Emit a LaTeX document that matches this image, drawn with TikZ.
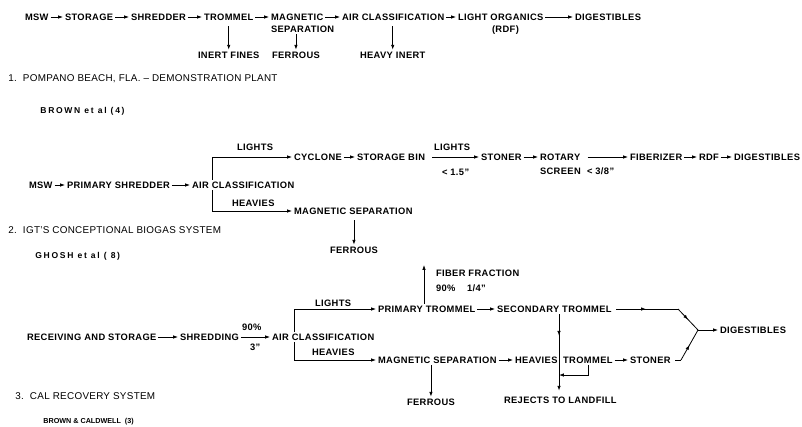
\documentclass[tikz,border=0pt]{standalone}
\usepackage{fontspec}
\setmainfont{Liberation Sans}
\usetikzlibrary{arrows.meta,decorations.markings}
\newcommand\flowfont{\fontsize{7}{8}\selectfont\bfseries\addfontfeature{LetterSpace=4}}
\newcommand\hdrfont{\fontsize{7.4}{8}\selectfont\addfontfeature{LetterSpace=3}}
\newcommand\authfont{\fontsize{6.4}{7}\selectfont\bfseries\addfontfeature{LetterSpace=20}}
\newcommand\authfontb{\fontsize{5.4}{6}\selectfont\bfseries}
\tikzset{
  lbl/.style={font=\flowfont, inner sep=0pt, outer sep=1.5pt, text height=5pt, text depth=0pt, anchor=west},
  hdr/.style={font=\hdrfont, inner sep=0pt, text height=5.3pt, text depth=0pt, anchor=west},
  auth/.style={font=\authfont, inner sep=0pt, text height=4.6pt, text depth=0pt, anchor=west},
  authb/.style={font=\authfontb, inner sep=0pt, text height=3.9pt, text depth=0pt, anchor=west},
  arr/.style={-{Latex[length=3.6pt,width=2.6pt]}},
  midarrow/.style={postaction={decorate}, decoration={markings, mark=at position #1 with {\arrow{Latex[length=3.6pt,width=2.6pt]}}}},
  midarrow/.default=0.5
}
\begin{document}
\begin{tikzpicture}[x=0.75pt, y=-0.75pt, line width=0.6pt]
\fill[white] (0,0) rectangle (802,426);
\useasboundingbox (0,0) rectangle (802,426);

% ---------- Row 1 ----------
\node[lbl] (msw1) at (23,17) {MSW};
\node[lbl] (sto1) at (63,17) {STORAGE};
\node[lbl] (shr1) at (129,17) {SHREDDER};
\node[lbl] (tro1) at (202,17) {TROMMEL};
\node[lbl] (mag1) at (269,17) {MAGNETIC};
\node[lbl] (sep1) at (269,29) {SEPARATION};
\node[lbl] (air1) at (340,17) {AIR CLASSIFICATION};
\node[lbl] (lig1) at (456,17) {LIGHT ORGANICS};
\node[lbl] (rdf1) at (490,29) {(RDF)};
\node[lbl] (dig1) at (573,17) {DIGESTIBLES};
\node[lbl] (ine1) at (196,55) {INERT FINES};
\node[lbl] (fer1) at (270,55) {FERROUS};
\node[lbl] (hvy1) at (358,55) {HEAVY INERT};

\draw[arr] (msw1) -- (sto1);
\draw[arr] (sto1) -- (shr1);
\draw[arr] (shr1) -- (tro1);
\draw[arr] (tro1) -- (mag1);
\draw[arr] (mag1) -- (air1);
\draw[arr] (air1) -- (lig1);
\draw[arr] (lig1) -- (dig1);
\draw[arr] ([yshift=-3pt]tro1.south) -- (tro1.south |- ine1.north);
\draw[arr] (sep1.south -| fer1.north) -- (fer1.north);
\draw[arr] ([yshift=-3pt]air1.south -| hvy1.north) -- (hvy1.north);

\node[hdr] (h1) at (8,78) {1.\ \ POMPANO BEACH, FLA. -- DEMONSTRATION PLANT};
\node[auth] (a1) at (40,110) {BROWN et al (4)};

% ---------- Row 2 ----------
\node[lbl] (msw2) at (27,185) {MSW};
\node[lbl] (psh2) at (65,185) {PRIMARY SHREDDER};
\node[lbl] (air2) at (190,185) {AIR CLASSIFICATION};
\coordinate (b2) at (212,185);
\node[lbl] (cyc2) at (292,157) {CYCLONE};
\node[lbl] (sbn2) at (355,157) {STORAGE BIN};
\node[lbl] (stn2) at (479,157) {STONER};
\node[lbl] (rot2) at (538,157) {ROTARY};
\node[lbl] (scr2) at (538,171) {SCREEN};
\node[lbl] (fib2) at (628,157) {FIBERIZER};
\node[lbl] (rdf2) at (697,157) {RDF};
\node[lbl] (dig2) at (732,157) {DIGESTIBLES};
\node[lbl] (l2a) at (235,147) {LIGHTS};
\node[lbl] (l2b) at (432,147) {LIGHTS};
\node[lbl] (s2a) at (440,172) {< 1.5"};
\node[lbl] (s2b) at (585,171) {< 3/8"};
\node[lbl] (h2a) at (230,203) {HEAVIES};
\node[lbl] (mag2) at (292,211) {MAGNETIC SEPARATION};
\node[lbl] (fer2) at (328,250) {FERROUS};

\draw[arr] (msw2) -- (psh2);
\draw[arr] (psh2) -- (air2);
\draw[arr] (b2 |- air2.north) |- (cyc2.west);
\draw[arr] (b2 |- air2.south) |- (mag2.west);
\draw[arr] (cyc2) -- (sbn2);
\draw[arr, shorten <=4pt] (sbn2) -- (stn2);
\draw[arr] (stn2) -- (rot2);
\draw[arr, shorten <=4pt] (rot2) -- (fib2);
\draw[arr] (fib2) -- (rdf2);
\draw[arr] (rdf2) -- (dig2);
\draw[arr] ([yshift=-3pt]mag2.south -| fer2.north) -- (fer2.north);

\node[hdr] (h2) at (8,230) {2.\ \ IGT'S CONCEPTIONAL\ BIOGAS SYSTEM};
\node[auth] (a2) at (35,255) {GHOSH et al (\ 8)};

% ---------- Row 3 ----------
\node[lbl] (rec3) at (25,337) {RECEIVING AND STORAGE};
\node[lbl] (shd3) at (178,337) {SHREDDING};
\node[lbl] (air3) at (270,337) {AIR CLASSIFICATION};
\node[lbl] (p90) at (240,327) {90\%};
\node[lbl] (p3) at (248,347) {3"};
\coordinate (b3) at (294,337);
\node[lbl] (lt3) at (313,303) {LIGHTS};
\node[lbl] (ptr3) at (376,309) {PRIMARY TROMMEL};
\node[lbl] (hv3) at (310,352) {HEAVIES};
\node[lbl] (mag3) at (376,360) {MAGNETIC SEPARATION};
\node[lbl] (fib3) at (434,273) {FIBER FRACTION};
\node[lbl] (f90) at (434,288) {90\%};
\node[lbl] (f14) at (465,288) {1/4"};
\coordinate (fx) at (424,300);
\node[lbl] (sec3) at (495,309) {SECONDARY TROMMEL};
\node[lbl] (htr3) at (513,360) {HEAVIES\hspace{2pt} TROMMEL};
\node[lbl] (stn3) at (628,360) {STONER};
\node[lbl] (fer3) at (405,402) {FERROUS};
\node[lbl] (rej3) at (502,400) {REJECTS TO LANDFILL};
\node[lbl] (dig3) at (718,330) {DIGESTIBLES};
\coordinate (vx) at (559,330);
\coordinate (lp) at (588,375);
\coordinate (k1) at (678,309);
\coordinate (k2) at (681,360);
\coordinate (mg) at (698,330);

\draw[arr] (rec3) -- (shd3);
\draw[arr] (shd3) -- (air3);
\draw[arr] (b3 |- air3.north) |- (ptr3.west);
\draw[arr] (b3 |- air3.south) |- (mag3.west);
\draw[arr] (fx |- ptr3.north) -- ([yshift=2pt]fx |- fib3.north);
\draw[arr] (ptr3) -- (sec3);
\draw[arr] (mag3) -- (htr3);
\draw[arr] (htr3) -- (stn3);
\draw[arr] (mag3.south -| fer3.north) -- (fer3.north);
\draw[arr, midarrow=0.28] (vx |- sec3.south) -- ([yshift=3pt]vx |- rej3.north);
\draw[arr] (lp |- htr3.south) -- (lp) -- (lp -| vx);
\draw[midarrow=0.48] ([xshift=2pt]sec3.east) -- (k1);
\draw[midarrow] (k1) -- (mg);
\draw ([xshift=2pt]stn3.east) -- (k2);
\draw[midarrow] (k2) -- (mg);
\draw[arr] (mg) -- (dig3.west);

\node[hdr] (h3) at (15,396) {3.\ \ CAL RECOVERY SYSTEM};
\node[authb] (a3) at (43,421) {BROWN \& CALDWELL\ \ (3)};
\end{tikzpicture}
\end{document}
